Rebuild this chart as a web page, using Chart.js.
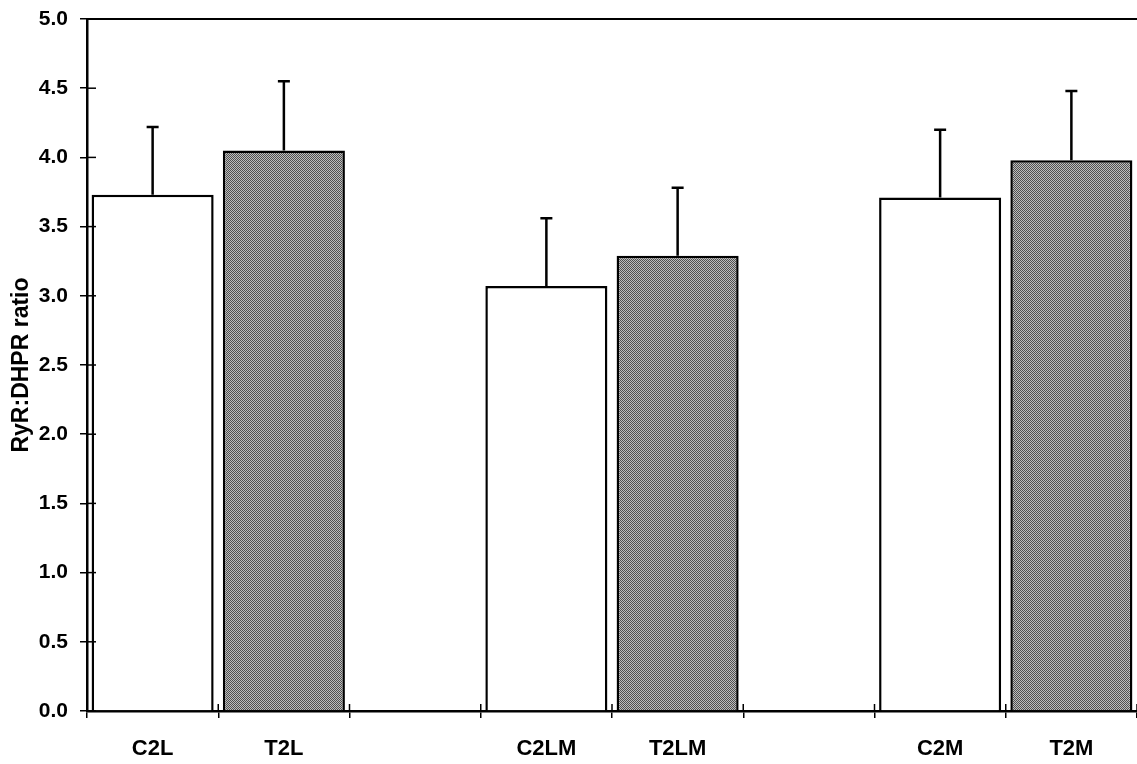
<!DOCTYPE html>
<html>
<head>
<meta charset="utf-8">
<script src="https://cdn.jsdelivr.net/npm/chart.js@4/dist/chart.umd.min.js"></script>
<style>
  html, body { margin: 0; padding: 0; background: #fff; }
  #wrap { width: 1137px; height: 764px; }
</style>
</head>
<body>
<div id="wrap"><canvas id="ratioChart" width="1137" height="764"></canvas></div>
<script>
// カテゴリ(空欄はグループ間のすき間)
const groupLabels = ['C2L', 'T2L', '', 'C2LM', 'T2LM', '', 'C2M', 'T2M'];
// RyR:DHPR 比の平均値
const ratioMeans = [3.73, 4.05, null, 3.07, 3.29, null, 3.71, 3.98];
// エラーバー上端 (平均 + SD)
const errorTops = [4.22, 4.55, null, 3.56, 3.78, null, 4.20, 4.48];
// C = 白, T = 灰色
const barKinds = ['C', 'T', null, 'C', 'T', null, 'C', 'T'];
const yTicks = [0, 0.5, 1.0, 1.5, 2.0, 2.5, 3.0, 3.5, 4.0, 4.5, 5.0];

const FONT = '"Liberation Sans", Arial, sans-serif';

// 灰色のドット模様を作る
function makeGrayPattern() {
    const c = document.createElement('canvas');
    c.width = 2; c.height = 2;
    const g = c.getContext('2d');
    g.fillStyle = '#bdbdbd';
    g.fillRect(0, 0, 2, 2);
    g.fillStyle = '#505050';
    g.fillRect(0, 0, 1, 1);
    g.fillRect(1, 1, 1, 1);
    return g.createPattern(c, 'repeat');
}
const grayFill = makeGrayPattern();

// エラーバー(上側のみ)と上枠線、内側の目盛り
const extrasPlugin = {
    id: 'extras',
    afterDatasetsDraw(chart) {
        const ctx = chart.ctx;
        const yScale = chart.scales.y;
        const xScale = chart.scales.x;
        const area = chart.chartArea;
        ctx.save();
        ctx.strokeStyle = '#000';

        // エラーバー
        ctx.lineWidth = 2.5;
        chart.getDatasetMeta(0).data.forEach((bar, i) => {
            if (errorTops[i] == null) return;
            const yTop = yScale.getPixelForValue(errorTops[i]);
            ctx.beginPath();
            ctx.moveTo(bar.x, bar.y);
            ctx.lineTo(bar.x, yTop);
            ctx.moveTo(bar.x - 6, yTop);
            ctx.lineTo(bar.x + 6, yTop);
            ctx.stroke();
        });

        // 上の枠線
        ctx.lineWidth = 2;
        ctx.beginPath();
        ctx.moveTo(area.left, area.top);
        ctx.lineTo(area.right, area.top);
        ctx.stroke();

        // 軸をまたぐ目盛り(内側部分)
        ctx.lineWidth = 1.5;
        yScale.ticks.forEach((t, i) => {
            const y = yScale.getPixelForTick(i);
            ctx.beginPath();
            ctx.moveTo(area.left, y);
            ctx.lineTo(area.left + 9, y);
            ctx.stroke();
        });
        const n = groupLabels.length;
        for (let i = 0; i <= n; i++) {
            const x = xScale.left + (xScale.right - xScale.left) * i / n;
            ctx.beginPath();
            ctx.moveTo(x, area.bottom);
            ctx.lineTo(x, area.bottom - 7);
            ctx.stroke();
        }
        ctx.restore();
    }
};

const ctx = document.getElementById('ratioChart').getContext('2d');
new Chart(ctx, {
    type: 'bar',
    data: {
        labels: groupLabels,
        datasets: [{
            data: ratioMeans,
            backgroundColor: barKinds.map(k => k === 'T' ? grayFill : '#ffffff'),
            borderColor: '#000',
            borderWidth: 2.5,
            barPercentage: 0.93,
            categoryPercentage: 1.0
        }]
    },
    options: {
        responsive: false,
        animation: false,
        layout: { padding: { top: 19, right: 0, left: 0, bottom: 0 } },
        plugins: {
            legend: { display: false },
            tooltip: { enabled: false }
        },
        scales: {
            x: {
                offset: true,
                grid: {
                    offset: true,
                    drawOnChartArea: false,
                    drawTicks: true,
                    tickLength: 7,
                    color: '#000',
                    lineWidth: 1.5
                },
                border: { display: true, color: '#000', width: 2.5 },
                ticks: {
                    color: '#000',
                    padding: 18,
                    maxRotation: 0,
                    autoSkip: false,
                    font: { family: FONT, size: 22, weight: 'bold' }
                },
                afterFit(scale) {
                    scale.height = 53;
                    scale.paddingLeft = 0;
                    scale.paddingRight = 0;
                }
            },
            y: {
                min: 0,
                max: 5,
                afterBuildTicks(scale) {
                    scale.ticks = yTicks.map(v => ({ value: v }));
                },
                grid: {
                    drawOnChartArea: false,
                    drawTicks: true,
                    tickLength: 7,
                    color: '#000',
                    lineWidth: 1.5
                },
                border: { display: true, color: '#000', width: 2.5 },
                ticks: {
                    color: '#000',
                    padding: 12,
                    callback: v => Number(v).toFixed(1),
                    font: { family: FONT, size: 21, weight: 'bold' }
                },
                title: {
                    display: true,
                    text: 'RyR:DHPR ratio',
                    color: '#000',
                    padding: { top: 8, bottom: 0 },
                    font: { family: FONT, size: 23, weight: 'bold' }
                },
                afterFit(scale) {
                    scale.width = 87;
                    scale.paddingTop = 0;
                    scale.paddingBottom = 0;
                }
            }
        }
    },
    plugins: [extrasPlugin]
});
</script>
</body>
</html>
